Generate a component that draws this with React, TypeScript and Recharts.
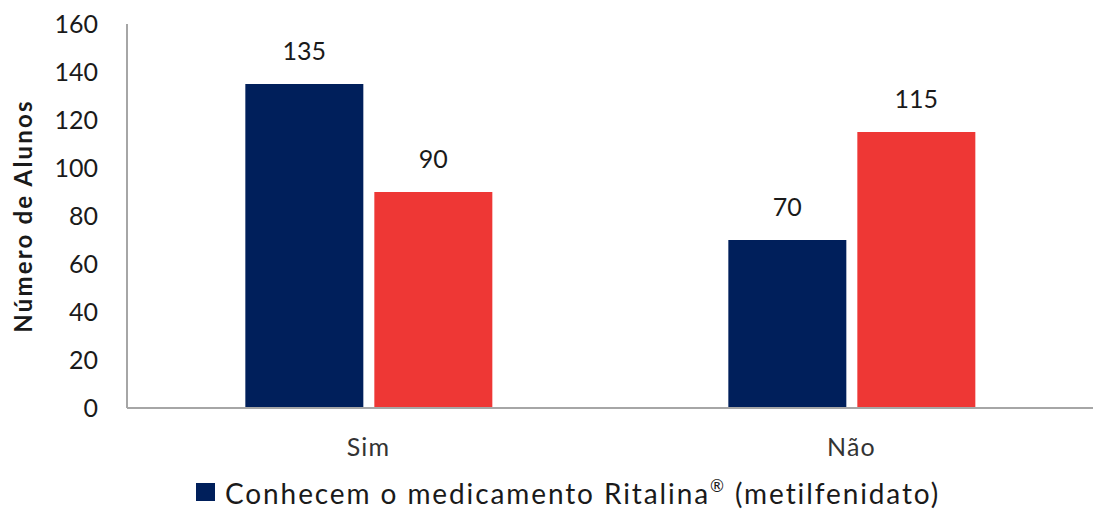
import React from 'react';
import { BarChart, Bar, XAxis, YAxis, LabelList } from 'recharts';

const categorias = ['Sim', 'Não'];
const conhecem = [135, 70];
const outraSerie = [90, 115];
const yTicks = [0, 20, 40, 60, 80, 100, 120, 140, 160];

const AZUL = '#001f5b';
const VERMELHO = '#ee3735';
const EIXO = '#a6a6a6';
const FONTE = 'Lato, "Open Sans", sans-serif';

const data = categorias.map((cat, i) => ({
  cat,
  conhecem: conhecem[i],
  outra: outraSerie[i],
}));

const TituloY = ({ viewBox }: any) => {
  const cx = 22;
  const cy = viewBox.y + viewBox.height / 2;
  return (
    <text
      x={cx}
      y={cy}
      transform={`rotate(-90, ${cx}, ${cy})`}
      textAnchor="middle"
      dominantBaseline="central"
      fontFamily={FONTE}
      fontWeight={700}
      fontSize={24}
      letterSpacing={2.2}
      fill="#1a1a1a"
    >
      Número de Alunos
    </text>
  );
};

const App: React.FC = () => {
  return (
    <div style={{ position: 'fixed', left: 0, top: 0, width: 1093, height: 511, background: '#fff' }}>
      <BarChart
        width={1093}
        height={511}
        data={data}
        margin={{ top: 24, right: 0, left: 0, bottom: 0 }}
        barCategoryGap="24.5%"
        barGap={11}
      >
        <XAxis
          dataKey="cat"
          height={103}
          axisLine={{ stroke: EIXO, strokeWidth: 2 }}
          tickLine={false}
          tickSize={0}
          tickMargin={30}
          tick={{ fill: '#333', fontSize: 25, fontFamily: FONTE, letterSpacing: 1.2 }}
        />
        <YAxis
          width={127}
          domain={[0, 160]}
          ticks={yTicks}
          interval={0}
          axisLine={{ stroke: EIXO, strokeWidth: 2 }}
          tickLine={false}
          tickSize={0}
          tickMargin={29}
          tick={{ fill: '#1a1a1a', fontSize: 25, fontFamily: FONTE }}
          label={<TituloY />}
        />
        <Bar dataKey="conhecem" fill={AZUL} isAnimationActive={false}>
          <LabelList
            dataKey="conhecem"
            position="top"
            offset={24}
            fill="#1a1a1a"
            fontSize={25}
            fontFamily={FONTE}
          />
        </Bar>
        <Bar dataKey="outra" fill={VERMELHO} isAnimationActive={false}>
          <LabelList
            dataKey="outra"
            position="top"
            offset={24}
            fill="#1a1a1a"
            fontSize={25}
            fontFamily={FONTE}
          />
        </Bar>
      </BarChart>
      <div
        style={{
          position: 'absolute',
          left: 196,
          top: 475,
          display: 'flex',
          alignItems: 'center',
          fontFamily: FONTE,
          fontSize: 28,
          letterSpacing: 1.9,
          color: '#1a1a1a',
          whiteSpace: 'nowrap',
        }}
      >
        <span style={{ width: 19, height: 18, background: AZUL, display: 'inline-block', marginRight: 10 }} />
        <span>
          Conhecem o medicamento Ritalina
          <span style={{ fontSize: '0.6em', verticalAlign: '0.7em' }}>®</span> (metilfenidato)
        </span>
      </div>
    </div>
  );
};

export default App;
